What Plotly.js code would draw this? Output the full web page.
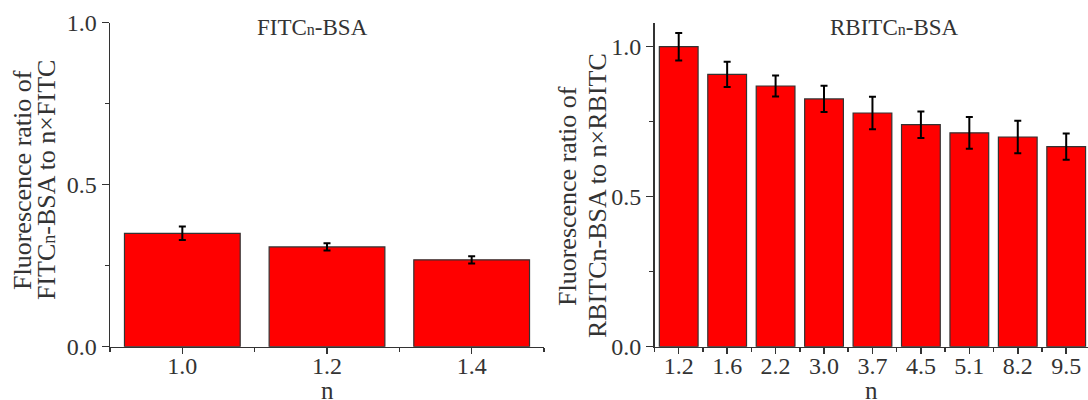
<!DOCTYPE html>
<html>
<head>
<meta charset="utf-8">
<script src="https://cdn.plot.ly/plotly-3.0.1.min.js"></script>
<style>html,body{margin:0;padding:0;background:#fff;}#chart{width:1088px;height:400px;}</style>
</head>
<body>
<div id="chart"></div>
<script>
// Left panel: FITCn-BSA
const leftCats = ['1.0', '1.2', '1.4'];
const leftVals = [0.350, 0.308, 0.268];
const leftErr = [0.021, 0.011, 0.011];

// Right panel: RBITCn-BSA
const rightCats = ['1.2', '1.6', '2.2', '3.0', '3.7', '4.5', '5.1', '8.2', '9.5'];
const rightVals = [1.000, 0.908, 0.869, 0.826, 0.779, 0.740, 0.713, 0.699, 0.667];
const rightErr = [0.046, 0.042, 0.035, 0.044, 0.054, 0.044, 0.053, 0.054, 0.044];

const yTicks = [0, 0.5, 1.0];

const W = 1088, H = 400;
const px = v => v / W;
const py = v => 1 - v / H;
const FONT = 'Liberation Serif, Times New Roman, serif';
const TXT = '#333333';
const AX = '#333333';
const TICK_SIZE = 24;
const YT_SIZE = 26;

const leftIdx = leftCats.map((_, i) => i);
const rightIdx = rightCats.map((_, i) => i);

const barStyle = {color: '#ff0000', line: {color: '#333333', width: 1.2}};
const errStyle = {type: 'data', visible: true, color: '#000000', thickness: 2, width: 3.5};

const traces = [
  {type: 'bar', x: leftIdx, y: leftVals, width: 0.8, marker: barStyle,
   error_y: Object.assign({array: leftErr}, errStyle), xaxis: 'x', yaxis: 'y', hoverinfo: 'skip'},
  {type: 'bar', x: rightIdx, y: rightVals, width: 0.8, marker: barStyle,
   error_y: Object.assign({array: rightErr}, errStyle), xaxis: 'x2', yaxis: 'y2', hoverinfo: 'skip'}
];

function xAxis(domain, range, idx, cats) {
  return {
    domain: domain, range: range, tickmode: 'array', tickvals: idx, ticktext: cats,
    showline: true, linecolor: AX, linewidth: 1.5, mirror: false,
    ticks: 'outside', ticklen: 6, tickwidth: 1.5, tickcolor: AX,
    ticklabelstandoff: -9,
    minor: {tickmode: 'linear', tick0: 0.5, dtick: 1, ticks: 'outside', ticklen: 4, tickwidth: 1.5, tickcolor: AX, showgrid: false},
    showgrid: false, zeroline: false, fixedrange: true,
    tickfont: {family: FONT, size: TICK_SIZE, color: TXT}
  };
}
function yAxis(anchor, range) {
  return {
    anchor: anchor, domain: [py(346.7), py(22.7)], range: range,
    tickmode: 'array', tickvals: yTicks, tickformat: '.1f',
    showline: true, linecolor: AX, linewidth: 1.5,
    ticks: 'outside', ticklen: 7, tickwidth: 1.5, tickcolor: AX,
    minor: {tickmode: 'linear', tick0: 0, dtick: 0.25, ticks: 'outside', ticklen: 4, tickwidth: 1.5, tickcolor: AX, showgrid: false},
    showgrid: false, zeroline: false, fixedrange: true,
    tickfont: {family: FONT, size: TICK_SIZE, color: TXT}
  };
}

const sm = (t, s) => '<span style="font-size:' + s + 'px">' + t + '</span>';

function ann(text, x, y, opts) {
  return Object.assign({text: text, x: px(x), y: py(y), xref: 'paper', yref: 'paper',
    showarrow: false, xanchor: 'center', yanchor: 'middle', borderpad: 0,
    font: {family: FONT, size: 23, color: TXT}}, opts || {});
}
const yt = {textangle: -90, font: {family: FONT, size: YT_SIZE, color: TXT}};
const nt = {y: -5 / H, yanchor: 'bottom', font: {family: FONT, size: 25, color: TXT}};

const layout = {
  width: W, height: H,
  margin: {l: 0, r: 0, t: 0, b: 0, pad: 0},
  paper_bgcolor: '#ffffff', plot_bgcolor: '#ffffff',
  showlegend: false, bargap: 0.2,
  xaxis: xAxis([px(110), px(544)], [-0.5, 2.5], leftIdx, leftCats),
  yaxis: yAxis('x', [0, 1.0]),
  xaxis2: Object.assign(xAxis([px(654.5), 1], [-0.5, 8.45], rightIdx, rightCats), {anchor: 'y2'}),
  yaxis2: yAxis('x2', [0, 1.08]),
  annotations: [
    ann('FITC' + sm('n', 16) + '-BSA', 312, 27.5),
    ann('RBITC' + sm('n', 16) + '-BSA', 894, 27.5),
    ann('Fluorescence ratio of', 23, 180, yt),
    ann('FITC' + sm('n', 18) + '-BSA to n\u00d7FITC', 47, 180, yt),
    ann('Fluorescence ratio of', 567, 196, yt),
    ann('RBITCn-BSA to n\u00d7RBITC', 597, 196, yt),
    ann('n', 327, 0, nt),
    ann('n', 871, 0, nt)
  ]
};

Plotly.newPlot('chart', traces, layout, {staticPlot: true, displayModeBar: false});
</script>
</body>
</html>
